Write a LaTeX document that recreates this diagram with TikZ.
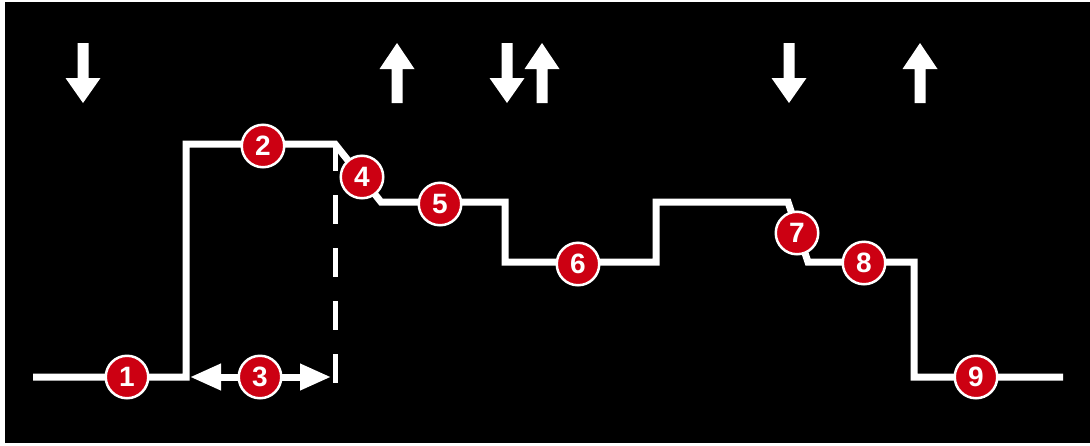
\documentclass[tikz,border=0pt]{standalone}
\usepackage{fontspec}
\setsansfont{Liberation Sans}
\usetikzlibrary{arrows.meta}
\definecolor{badgered}{RGB}{204,0,18}
\begin{document}
\begin{tikzpicture}[x=1pt,y=-1pt,
  trace/.style={white,line width=7pt,line join=miter},
  guide/.style={white,line width=5pt,dash pattern=on 29pt off 24pt},
  span/.style={white,line width=7pt,
    {Triangle[length=31pt,width=25pt]}-{Triangle[length=31pt,width=25pt]}},
  badge/.style={circle,fill=badgered,draw=white,line width=2.5pt,
    minimum size=42.5pt,inner sep=0pt,text=white,
    font=\sffamily\bfseries\fontsize{28}{28}\selectfont},
  downarr/.pic={\fill[white] (-5.5,-60) -- (5.5,-60) -- (5.5,-25) -- (17.5,-25)
    -- (0,0) -- (-17.5,-25) -- (-5.5,-25) -- cycle;},
  uparr/.pic={\fill[white] (-5.5,60) -- (5.5,60) -- (5.5,26) -- (17.5,26)
    -- (0,0) -- (-17.5,26) -- (-5.5,26) -- cycle;}]
\useasboundingbox (0,0) rectangle (1090,445);
\fill[white] (0,0) rectangle (1090,445);
\fill[black] (5,1.5) rectangle (1090,443);

% corner points of the profile
\coordinate (p0) at (33,377);
\coordinate (p1) at (186,377);
\coordinate (p2) at (186,144);
\coordinate (p3) at (335,144);
\coordinate (p4) at (381,202);
\coordinate (p5) at (505,202);
\coordinate (p6) at (505,262);
\coordinate (p7) at (656,262);
\coordinate (p8) at (656,202);
\coordinate (p9) at (788,202);
\coordinate (p10) at (808,262);
\coordinate (p11) at (914,262);
\coordinate (p12) at (914,377);
\coordinate (p13) at (1063,377);

% vertical guide and span arrow
\coordinate (g0) at (335,142);
\coordinate (g1) at (335,384);
\draw[guide] (g0) -- (g1);
\coordinate (s0) at (190,377);
\coordinate (s1) at (331,377);
\draw[span] (s0) -- (s1);

% profile
\draw[trace] (p0) -- (p1) -- (p2) -- (p3) -- (p4) -- (p5) -- (p6) -- (p7)
  -- (p8) -- (p9) -- (p10) -- (p11) -- (p12) -- (p13);

% numbered badges
\node[badge] (c1) at (127,377) {1};
\node[badge] (c2) at (263,146) {2};
\node[badge] (c3) at (260,377) {3};
\node[badge] (c4) at (362,177) {4};
\node[badge] (c5) at (440,204) {5};
\node[badge] (c6) at (578,264) {6};
\node[badge] (c7) at (797,233) {7};
\node[badge] (c8) at (864,263) {8};
\node[badge] (c9) at (976,377) {9};

% direction arrows along the top
\pic (a1) at (83,103) {downarr};
\pic (a2) at (397,43) {uparr};
\pic (a3) at (507,103) {downarr};
\pic (a4) at (542,43) {uparr};
\pic (a5) at (789,103) {downarr};
\pic (a6) at (920,43) {uparr};
\end{tikzpicture}
\end{document}
